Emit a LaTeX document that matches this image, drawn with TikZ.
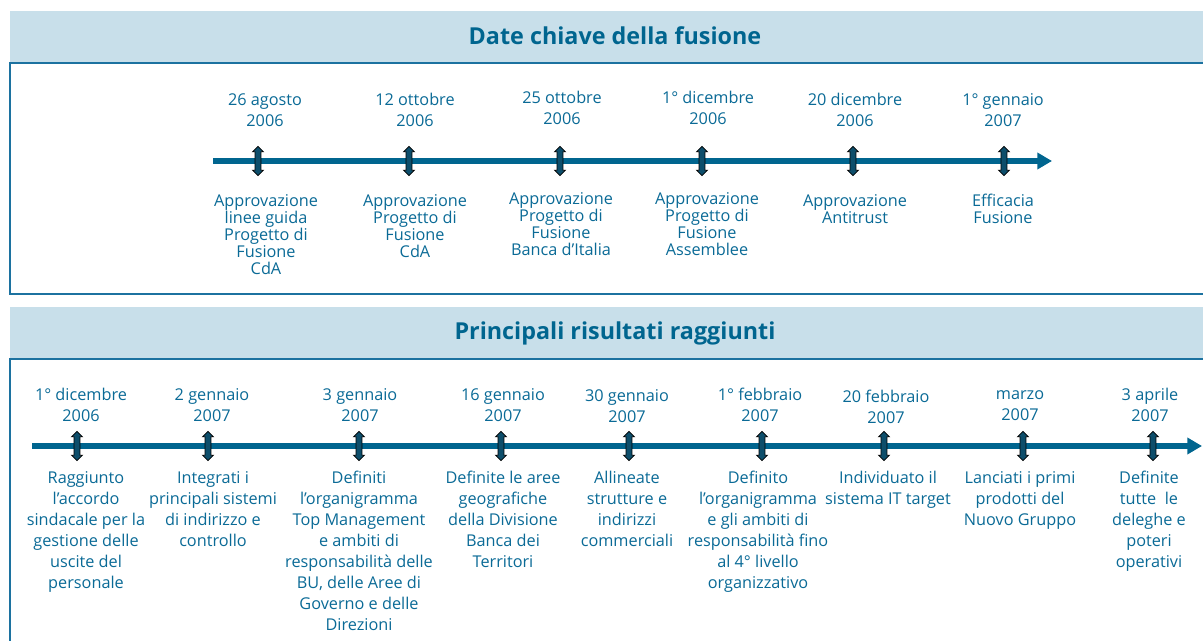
\documentclass[tikz,border=0pt]{standalone}
\usepackage{fontspec}
\setmainfont{Open Sans}
\usetikzlibrary{arrows.meta,shapes.arrows,positioning}
\definecolor{bandblue}{HTML}{C8DFEA}
\definecolor{lineblue}{HTML}{00658F}
\definecolor{frameblue}{HTML}{1C72A0}
\definecolor{textblue}{HTML}{0A6A96}
\definecolor{markfill}{HTML}{0D4E6B}
\tikzset{%
  >={Triangle[width=12pt,length=11pt]},
  % Specifications for style of nodes:
           base/.style = {inner sep=0pt, text=textblue, align=center},
          title/.style = {base, font=\bfseries\fontsize{17.5}{21}\selectfont, text=lineblue},
       datetext/.style = {base, font=\fontsize{12.2}{15.75}\selectfont},
     eventtight/.style = {base, anchor=north, font=\fontsize{12.2}{12.75}\selectfont},
      eventtext/.style = {base, anchor=north, font=\fontsize{12.2}{15.75}\selectfont},
         marker/.style = {double arrow, rotate=90, draw=black, fill=markfill,
                           line width=0.6pt, minimum height=22pt,
                           double arrow head extend=1.8pt, inner xsep=0pt, inner ysep=1.9pt},
       timeline/.style = {draw=lineblue, line width=3.8pt, ->},
          frame/.style = {draw=frameblue, line width=1.8pt},
}

\begin{document}
\begin{tikzpicture}[x=0.75pt, y=-0.75pt]
  \useasboundingbox (0,0) rectangle (1203,641);

  % Header bands and frames
  \fill[bandblue] (10,11) rectangle (1203,63);
  \fill[bandblue] (10,307) rectangle (1203,359);
  \draw[frame] (1203,63) -- (10,63) -- (10,294) -- (1203,294);
  \draw[frame] (1203,359) -- (10,359) -- (10,641);

  \node (titleFusione)   [title] at (615,36)  {Date chiave della fusione};
  \node (titleRisultati) [title] at (615,333) {Principali risultati raggiunti};

  % Upper time line
  \coordinate (fusStart) at (213,161);
  \coordinate (fusEnd)   at (1052,161);
  \draw[timeline] (fusStart) -- (fusEnd);

  \node (mAgosto)    [marker] at (258,161)  {};
  \node (mOttobreA)  [marker] at (409,161)  {};
  \node (mOttobreB)  [marker] at (560,161)  {};
  \node (mDicembreA) [marker] at (702,161)  {};
  \node (mDicembreB) [marker] at (853,161)  {};
  \node (mGennaio)   [marker] at (1004,161) {};

  \node (dAgosto)    [datetext] at (265,110)  {26 agosto\\2006};
  \node (dOttobreA)  [datetext] at (415,110)  {12 ottobre\\2006};
  \node (dOttobreB)  [datetext] at (562,108)  {25 ottobre\\2006};
  \node (dDicembreA) [datetext] at (708,108)  {1° dicembre\\2006};
  \node (dDicembreB) [datetext] at (855,110)  {20 dicembre\\2006};
  \node (dGennaio)   [datetext] at (1003,110) {1° gennaio\\2007};

  \node (eAgosto)    [eventtight] at (266,194)
                     {Approvazione\\linee guida\\Progetto di\\Fusione\\CdA};
  \node (eOttobreA)  [eventtight] at (415,194)
                     {Approvazione\\Progetto di\\Fusione\\CdA};
  \node (eOttobreB)  [eventtight] at (561,192)
                     {Approvazione\\Progetto di\\Fusione\\Banca d’Italia};
  \node (eDicembreA) [eventtight] at (707,192)
                     {Approvazione\\Progetto di\\Fusione\\Assemblee};
  \node (eDicembreB) [eventtight] at (855,194)
                     {Approvazione\\Antitrust};
  \node (eGennaio)   [eventtight] at (1003,194)
                     {Efficacia\\Fusione};

  % Lower time line
  \coordinate (risStart) at (32,446);
  \coordinate (risEnd)   at (1202,446);
  \draw[timeline] (risStart) -- (risEnd);

  \node (mDic)     [marker] at (77,446)   {};
  \node (mGenA)    [marker] at (208,446)  {};
  \node (mGenB)    [marker] at (359,446)  {};
  \node (mGenC)    [marker] at (501,446)  {};
  \node (mGenD)    [marker] at (629,446)  {};
  \node (mFebA)    [marker] at (762,446)  {};
  \node (mFebB)    [marker] at (884,446)  {};
  \node (mMarzo)   [marker] at (1023,446) {};
  \node (mAprile)  [marker] at (1153,446) {};

  \node (dDic)     [datetext] at (81,405)   {1° dicembre\\2006};
  \node (dGenA)    [datetext] at (212,405)  {2 gennaio\\2007};
  \node (dGenB)    [datetext] at (360,405)  {3 gennaio\\2007};
  \node (dGenC)    [datetext] at (503,405)  {16 gennaio\\2007};
  \node (dGenD)    [datetext] at (627,406)  {30 gennaio\\2007};
  \node (dFebA)    [datetext] at (760,405)  {1° febbraio\\2007};
  \node (dFebB)    [datetext] at (886,407)  {20 febbraio\\2007};
  \node (dMarzo)   [datetext] at (1020,406) {marzo\\2007};
  \node (dAprile)  [datetext] at (1150,405) {3 aprile\\2007};

  \node (eDic)     [eventtext] at (86,471)
                   {Raggiunto\\l’accordo\\sindacale per la\\gestione delle\\uscite del\\personale};
  \node (eGenA)    [eventtext] at (213,471)
                   {Integrati i\\principali sistemi\\di indirizzo e\\controllo};
  \node (eGenB)    [eventtext] at (359,471)
                   {Definiti\\l’organigramma\\Top Management\\e ambiti di\\responsabilità delle\\BU, delle Aree di\\Governo e delle\\Direzioni};
  \node (eGenC)    [eventtext] at (503,471)
                   {Definite le aree\\geografiche\\della Divisione\\Banca dei\\Territori};
  \node (eGenD)    [eventtext] at (627,471)
                   {Allineate\\strutture e\\indirizzi\\commerciali};
  \node (eFebA)    [eventtext] at (758,471)
                   {Definito\\l’organigramma\\e gli ambiti di\\responsabilità fino\\al 4° livello\\organizzativo};
  \node (eFebB)    [eventtext] at (888,471)
                   {Individuato il\\sistema IT target};
  \node (eMarzo)   [eventtext] at (1020,471)
                   {Lanciati i primi\\prodotti del\\Nuovo Gruppo};
  \node (eAprile)  [eventtext] at (1149,471)
                   {Definite\\tutte\ \ le\\deleghe e\\poteri\\operativi};
\end{tikzpicture}
\end{document}
